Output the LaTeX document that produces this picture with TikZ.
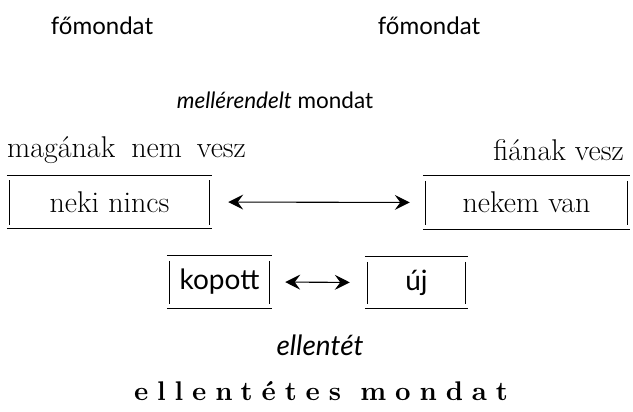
\documentclass[tikz,border=0pt]{standalone}
\usepackage{fontspec}
\setsansfont{Lato}
\newfontfamily\spacedbold[LetterSpace=33]{lmroman10-bold.otf}
\usetikzlibrary{arrows.meta}
\begin{document}
\begin{tikzpicture}[x=1pt,y=-1pt,
  sanslabel/.style={font=\fontsize{24}{28}\selectfont\sffamily, inner sep=0pt},
  boxsans/.style={font=\fontsize{28}{32}\selectfont\sffamily, inner sep=0pt},
  seriflabel/.style={font=\fontsize{30}{34}\selectfont, inner sep=0pt},
  framebox/.style={inner sep=0pt},
  frameline/.style={line width=1.3pt},
  tip/.tip={Stealth[length=15pt,width=15pt,inset=5.5pt]},
  linkarrow/.style={line width=1.1pt, tip-tip}
]
\useasboundingbox (0,0) rectangle (633,412);

% headings
\node[sanslabel] (f1) at (102,26) {főmondat};
\node[sanslabel] (f2) at (429,26) {főmondat};
\node[sanslabel, font=\fontsize{22.5}{26}\selectfont\sffamily] (mm) at (275,100) {\itshape mellérendelt\upshape\ mondat};
\node[seriflabel, anchor=west] (mv) at (7,150) {magának\hspace{16pt}nem\hspace{15pt}vesz};
\node[seriflabel, anchor=east] (fv) at (624,150) {fiának vesz};

% framed words
\node[framebox, seriflabel, minimum width=205pt, minimum height=53pt] (nn) at (109.5,202) {neki nincs};
\node[framebox, seriflabel, minimum width=207pt, minimum height=53pt] (nv) at (526.5,202.5) {nekem van};
\node[framebox, boxsans, minimum width=105pt, minimum height=52pt] (kp) at (219.5,282) {kopott};
\node[framebox, boxsans, minimum width=103pt, minimum height=51pt] (uj) at (416.5,282.5) {új};

\foreach \b in {nn,nv,kp,uj}{
  \draw[frameline] (\b.north west) -- (\b.north east);
  \draw[frameline] (\b.south west) -- (\b.south east);
  \draw[frameline] ([xshift=2.5pt,yshift=-5pt]\b.north west) -- ([xshift=2.5pt,yshift=4pt]\b.south west);
  \draw[frameline] ([xshift=-2.5pt,yshift=-5pt]\b.north east) -- ([xshift=-2.5pt,yshift=4pt]\b.south east);
}

% oppositions
\draw[linkarrow, shorten <=16pt, shorten >=13pt] (nn.east) -- (nv.west);
\draw[linkarrow, shorten <=13pt, shorten >=15pt] (kp.east) -- (uj.west);

% captions
\node[boxsans, font=\fontsize{28}{32}\selectfont\sffamily\itshape] (el) at (320,345) {ellentét};
\node[inner sep=0pt, font=\fontsize{27}{32}\selectfont\spacedbold] (em) at (321,391) {ellentétes mondat};
\end{tikzpicture}
\end{document}
